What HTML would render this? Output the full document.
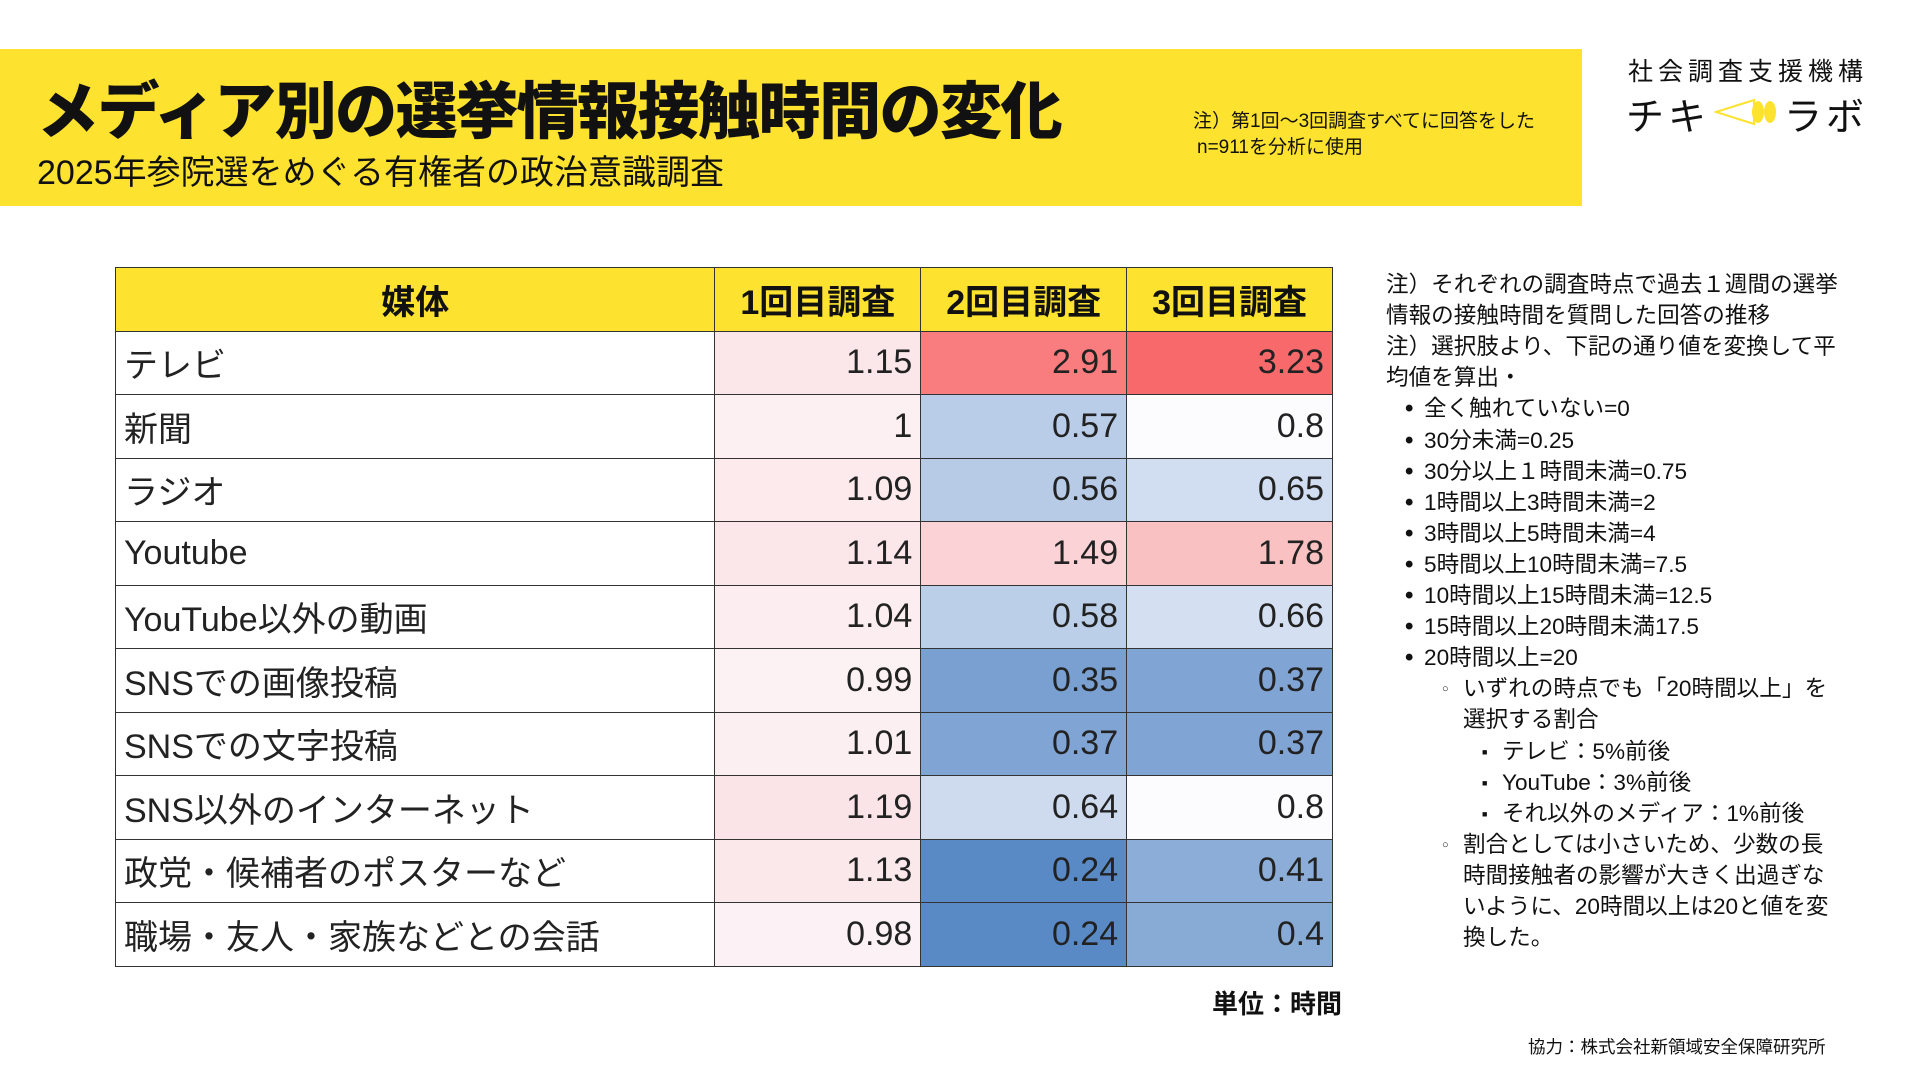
<!DOCTYPE html>
<html><head><meta charset="utf-8"><style>
*{margin:0;padding:0;box-sizing:border-box}
body{width:1920px;height:1080px;background:#fff;position:relative;overflow:hidden;font-family:"Liberation Sans","Noto Sans CJK JP",sans-serif;color:#111}
.a{position:absolute;white-space:nowrap}
#banner{position:absolute;left:0;top:49px;width:1582px;height:157px;background:#fde22f}
table{position:absolute;left:115px;top:267px;border-collapse:collapse;width:1218px}
td,th{border:1.5px solid #333;height:63.5px;font-size:34px;font-weight:400;padding:0 8px;color:#222}
th{background:#fde22f;font-weight:700;text-align:center;color:#111}
td.n{text-align:right}
</style></head><body>
<div id="banner"></div>
<div class="a" style="left:37px;top:61px;font-size:62px;font-weight:900;letter-spacing:-1.5px">メディア別の選挙情報接触時間の変化</div>
<div class="a" style="left:37px;top:145px;font-size:34px">2025年参院選をめぐる有権者の政治意識調査</div>
<div class="a" style="left:1193px;top:106px;font-size:19px">注）第1回～3回調査すべてに回答をした</div>
<div class="a" style="left:1197px;top:132px;font-size:19px">n=911を分析に使用</div>
<div class="a" style="left:1628px;top:52px;font-size:25px;letter-spacing:5px">社会調査支援機構</div>
<div class="a" style="left:1626px;top:86px;font-size:38px;letter-spacing:4px">チキ</div>
<svg class="a" style="left:1714px;top:98px" width="64" height="28"><polygon points="2,14 40,2 40,26" fill="none" stroke="#fde22f" stroke-width="2"/><ellipse cx="44" cy="14" rx="6" ry="11" fill="#fde22f"/><ellipse cx="56" cy="14" rx="6" ry="11" fill="#fde22f"/></svg>
<div class="a" style="left:1784px;top:86px;font-size:38px;letter-spacing:4px">ラボ</div>
<table id="t">
<colgroup><col style="width:600px"><col style="width:206px"><col style="width:206px"><col style="width:206px"></colgroup>
<tr><th>媒体</th><th>1回目調査</th><th>2回目調査</th><th>3回目調査</th></tr>
</table>
<div class="a" style="left:1212px;top:984px;font-size:26px;font-weight:700">単位：時間</div>
<div class="a" style="left:1528px;top:1034px;font-size:17.5px">協力：株式会社新領域安全保障研究所</div>
<div id="notes"></div>
<script>
var rows=[["テレビ",1.15,2.91,3.23],["新聞",1,0.57,0.8],["ラジオ",1.09,0.56,0.65],["Youtube",1.14,1.49,1.78],["YouTube以外の動画",1.04,0.58,0.66],["SNSでの画像投稿",0.99,0.35,0.37],["SNSでの文字投稿",1.01,0.37,0.37],["SNS以外のインターネット",1.19,0.64,0.8],["政党・候補者のポスターなど",1.13,0.24,0.41],["職場・友人・家族などとの会話",0.98,0.24,0.4]];
function col(v){var w=[252,252,255],c,t;if(v>=0.8){t=(v-0.8)/(3.23-0.8);c=[248,105,107];}else{t=(0.8-v)/(0.8-0.24);c=[90,138,198];}
return "rgb("+w.map(function(x,i){return Math.round(x+(c[i]-x)*t)}).join(",")+")";}
var T=document.getElementById("t"),h="";
rows.forEach(function(r){h+="<tr><td>"+r[0]+"</td>";for(var i=1;i<4;i++)h+='<td class="n" style="background:'+col(r[i])+'">'+r[i]+"</td>";h+="</tr>";});
T.insertAdjacentHTML("beforeend",h);
var L=[[0,"","注）それぞれの調査時点で過去１週間の選挙"],[0,"","情報の接触時間を質問した回答の推移"],[0,"","注）選択肢より、下記の通り値を変換して平"],[0,"","均値を算出・"],
[1,"•","全く触れていない=0"],[1,"•","30分未満=0.25"],[1,"•","30分以上１時間未満=0.75"],[1,"•","1時間以上3時間未満=2"],[1,"•","3時間以上5時間未満=4"],[1,"•","5時間以上10時間未満=7.5"],[1,"•","10時間以上15時間未満=12.5"],[1,"•","15時間以上20時間未満17.5"],[1,"•","20時間以上=20"],
[2,"○","いずれの時点でも「20時間以上」を"],[2,"","選択する割合"],[3,"■","テレビ：5%前後"],[3,"■","YouTube：3%前後"],[3,"■","それ以外のメディア：1%前後"],
[2,"○","割合としては小さいため、少数の長"],[2,"","時間接触者の影響が大きく出過ぎな"],[2,"","いように、20時間以上は20と値を変"],[2,"","換した。"]];
var tx=[1386,1424,1463,1502],bx=[0,1405,1442,1482],o="";
L.forEach(function(l,i){var y=270+i*31.1;
if(l[1])o+='<div class="a" style="left:'+bx[l[0]]+'px;top:'+y+'px;font-size:'+(l[1]=="○"?11:l[1]=="■"?9:24)+'px;line-height:30px;'+(l[1]=="•"?'font-weight:700':'')+'">'+l[1]+'</div>';
o+='<div class="a" style="left:'+tx[l[0]]+'px;top:'+y+'px;font-size:22.6px;line-height:30px">'+l[2]+'</div>';});
document.getElementById("notes").innerHTML=o;
</script>
</body></html>
